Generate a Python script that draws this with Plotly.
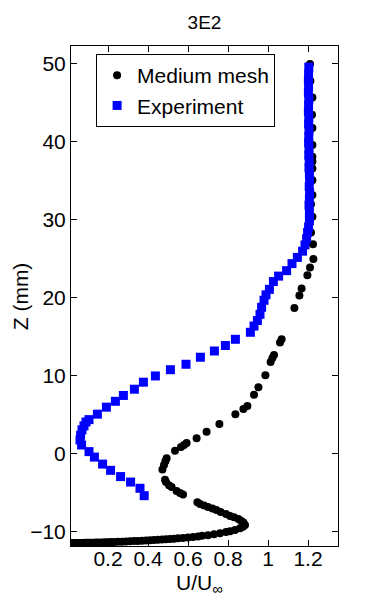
import plotly.graph_objects as go

# Medium mesh (black circles), U/Uinf vs Z (mm)
mesh_u = [0.016, 0.025, 0.035, 0.045, 0.055, 0.065, 0.075, 0.085, 0.095, 0.105,
          0.115, 0.125, 0.14, 0.155, 0.17, 0.185, 0.20, 0.215, 0.23, 0.25,
          0.27, 0.29, 0.31, 0.33, 0.35, 0.37, 0.39, 0.41, 0.43, 0.45,
          0.47, 0.49, 0.51, 0.53, 0.55, 0.575, 0.60, 0.625, 0.65, 0.67,
          0.70, 0.73, 0.76, 0.79, 0.81, 0.835, 0.86, 0.875, 0.885,
          0.877, 0.865, 0.852, 0.83, 0.81, 0.79, 0.763, 0.742, 0.722, 0.70,
          0.68, 0.66, 0.647, 0.575, 0.56, 0.543, 0.518, 0.505, 0.49, 0.485,
          0.472, 0.48, 0.487, 0.493, 0.535, 0.565, 0.58, 0.593, 0.643, 0.693,
          0.757, 0.837, 0.877, 0.897, 0.93, 0.952, 0.987, 1.013, 1.022, 1.03,
          1.06, 1.068, 1.132, 1.157, 1.168, 1.197, 1.21, 1.227, 1.225, 1.215,
          1.222, 1.215, 1.222, 1.222, 1.222, 1.222, 1.222, 1.222, 1.222, 1.22,
          1.222, 1.212, 1.21]
mesh_z = [-11.42, -11.42, -11.41, -11.41, -11.40, -11.40, -11.40, -11.39, -11.39, -11.38,
          -11.38, -11.37, -11.36, -11.35, -11.34, -11.33, -11.32, -11.30, -11.29, -11.27,
          -11.25, -11.22, -11.20, -11.17, -11.15, -11.12, -11.09, -11.06, -11.03, -11.00,
          -10.97, -10.94, -10.90, -10.86, -10.82, -10.77, -10.71, -10.65, -10.58, -10.50,
          -10.42, -10.30, -10.18, -10.02, -9.92, -9.75, -9.52, -9.32, -9.10,
          -8.8, -8.55, -8.35, -8.1, -7.95, -7.7, -7.45, -7.2, -7.0, -6.8,
          -6.6, -6.4, -6.2, -5.2, -5.0, -4.75, -4.25, -4.0, -3.6, -3.3,
          -2.0, -1.4, -0.95, -0.55, 0.4, 0.9, 1.15, 1.4, 2.0, 2.85,
          3.85, 5.1, 5.75, 6.15, 7.6, 8.55, 10.1, 11.8, 12.3, 12.7,
          14.3, 14.7, 18.7, 20.3, 21.2, 22.9, 23.9, 25.0, 26.9, 28.4,
          30.4, 32.0, 33.2, 35.1, 36.6, 37.5, 38.1, 39.6, 41.8, 43.5,
          45.7, 47.8, 50.0]

# Experiment (blue squares)
exp_u = [0.381, 0.36, 0.313, 0.263, 0.213, 0.173, 0.132, 0.105, 0.068, 0.06,
         0.063, 0.07, 0.08, 0.09, 0.105, 0.147, 0.192, 0.237, 0.277, 0.332,
         0.377, 0.437, 0.512, 0.59, 0.662, 0.732, 0.787, 0.837, 0.912, 0.93,
         0.947, 0.96, 0.968, 0.98, 0.99, 1.007, 1.027, 1.053, 1.093, 1.12,
         1.147, 1.173, 1.185, 1.193, 1.198, 1.203, 1.207, 1.207, 1.205,
         1.207, 1.208, 1.206, 1.208, 1.207, 1.205, 1.206, 1.204, 1.205, 1.203,
         1.204, 1.205, 1.203, 1.204, 1.202, 1.203, 1.204, 1.202, 1.203, 1.202,
         1.203, 1.204]
exp_z = [-5.35, -4.4, -3.6, -2.9, -2.1, -1.3, -0.4, 0.3, 1.15, 1.8,
         2.4, 3.1, 3.6, 4.1, 4.4, 5.1, 6.0, 6.75, 7.5, 8.3,
         9.2, 10.0, 10.8, 11.5, 12.4, 13.2, 13.9, 14.7, 15.6, 16.4,
         17.1, 17.9, 18.8, 19.7, 20.4, 21.1, 22.1, 22.8, 23.5, 24.4,
         25.2, 26.0, 26.8, 27.6, 28.4, 29.1, 29.9, 30.9, 31.9,
         32.7, 33.5, 34.3, 35.1, 35.9, 36.7, 37.5, 38.3, 39.1, 39.9,
         40.7, 41.5, 42.3, 43.1, 43.9, 44.7, 45.5, 46.3, 47.1, 47.9,
         48.7, 49.6]

x_ticks = [0.2, 0.4, 0.6, 0.8, 1.0, 1.2]
x_labels = ['0.2', '0.4', '0.6', '0.8', '1', '1.2']
y_ticks = [-10, 0, 10, 20, 30, 40, 50]

font = dict(family='Liberation Sans, Arial, sans-serif', color='black')

fig = go.Figure()
fig.add_trace(go.Scatter(x=mesh_u, y=mesh_z, mode='markers', name='Medium mesh',
                         marker=dict(symbol='circle', size=8, color='black')))
fig.add_trace(go.Scatter(x=exp_u, y=exp_z, mode='markers', name='Experiment',
                         marker=dict(symbol='square', size=9, color='#0000ff')))

axis_common = dict(showgrid=False, zeroline=False, showline=True, linecolor='black',
                   linewidth=1, mirror='ticks', ticks='inside', ticklen=6,
                   tickcolor='black', tickfont=dict(size=21, **font), automargin=False)
fig.update_xaxes(range=[0.015, 1.35], tickvals=x_ticks, ticktext=x_labels,
                 ticklabelstandoff=-6, **axis_common)
fig.update_yaxes(range=[-11.8, 52.3], tickvals=y_ticks, **axis_common)

# axis titles placed as annotations (page body adds an 8px offset)
fig.add_annotation(text='Z (mm)', xref='paper', yref='paper', x=-0.19, y=0.5,
                   xanchor='center', yanchor='middle', textangle=-90,
                   showarrow=False, font=dict(size=21, **font))
fig.add_annotation(text='U/U<sub>∞</sub>', xref='paper', yref='paper', x=0.483, y=-0.075,
                   xanchor='center', yanchor='middle',
                   showarrow=False, font=dict(size=21, **font))

fig.update_layout(
    width=365, height=606,
    margin=dict(l=63, r=35, t=38, b=68),
    plot_bgcolor='white', paper_bgcolor='white',
    title=dict(text='3E2', x=0.5, xref='paper', xanchor='center',
               y=0.976, yanchor='middle', font=dict(size=19, **font)),
    legend=dict(x=0.094, y=0.984, xanchor='left', yanchor='top',
                bgcolor='white', bordercolor='black', borderwidth=1,
                font=dict(size=21, **font), tracegroupgap=0),
    font=font,
)

fig.write_html("out.html")
